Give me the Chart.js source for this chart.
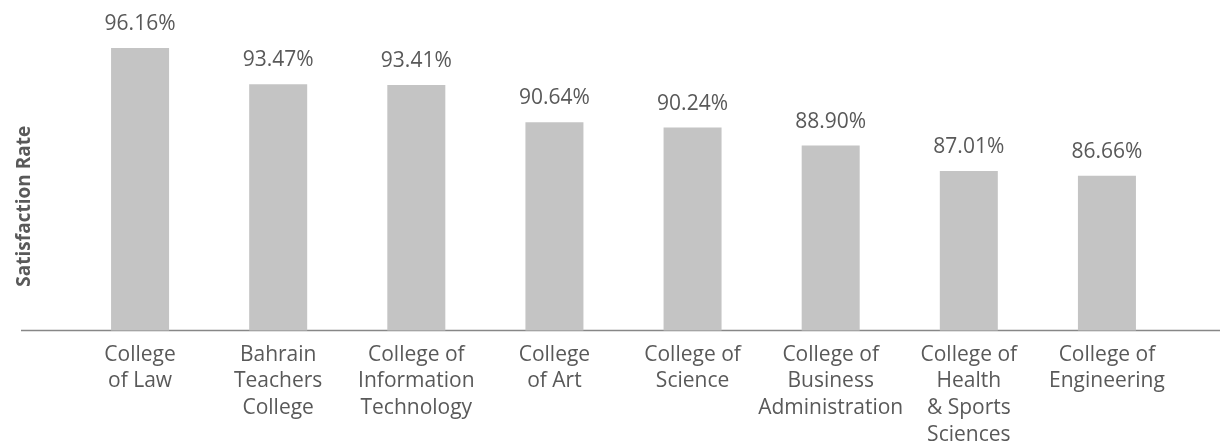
<!DOCTYPE html>
<html>
<head>
<meta charset="utf-8">
<script src="https://cdn.jsdelivr.net/npm/chart.js@4/dist/chart.umd.min.js"></script>
<style>
  html, body { margin: 0; padding: 0; background: #fff; }
  #wrap { width: 1220px; height: 446px; position: relative; }
</style>
</head>
<body>
<div id="wrap"><canvas id="myChart"></canvas></div>
<script>
var collegeLabels = [
    ["College", "of Law"],
    ["Bahrain", "Teachers", "College"],
    ["College of", "Information", "Technology"],
    ["College", "of Art"],
    ["College of", "Science"],
    ["College of", "Business", "Administration"],
    ["College of", "Health", "& Sports", "Sciences"],
    ["College of", "Engineering"]
];
var satisfactionRates = [96.16, 93.47, 93.41, 90.64, 90.24, 88.90, 87.01, 86.66];
var yAxisTitle = "Satisfaction Rate";

var TEXT_COLOR = "#595959";
var BAR_COLOR = "#c4c4c4";

// value labels above each bar + baseline + rotated axis title
var decorPlugin = {
    id: "decor",
    beforeDatasetsDraw: function(chart) {
        var ctx = chart.ctx;
        var y = chart.scales.y.getPixelForValue(chart.scales.y.min);
        ctx.save();
        ctx.strokeStyle = "#878787";
        ctx.lineWidth = 1.5;
        ctx.beginPath();
        ctx.moveTo(21, y);
        ctx.lineTo(chart.width, y);
        ctx.stroke();
        ctx.restore();
    },
    afterDatasetsDraw: function(chart) {
        var ctx = chart.ctx;
        var meta = chart.getDatasetMeta(0);
        ctx.save();
        ctx.fillStyle = TEXT_COLOR;
        ctx.font = "21px 'Open Sans'";
        ctx.textAlign = "center";
        ctx.textBaseline = "alphabetic";
        meta.data.forEach(function(bar, i) {
            ctx.fillText(satisfactionRates[i].toFixed(2) + "%", bar.x, bar.y - 18);
        });

        var area = chart.chartArea;
        ctx.translate(25, (area.top + area.bottom) / 2 + 26);
        ctx.rotate(-Math.PI / 2);
        ctx.font = "bold 19px 'Open Sans'";
        ctx.textBaseline = "middle";
        ctx.fillText(yAxisTitle, 0, 0);
        ctx.restore();
    }
};

var canvas = document.getElementById("myChart");
var ctx = canvas.getContext("2d");

var myChart = new Chart(ctx, {
    type: "bar",
    data: {
        labels: collegeLabels,
        datasets: [{
            label: yAxisTitle,
            data: satisfactionRates,
            backgroundColor: BAR_COLOR,
            borderWidth: 0,
            barPercentage: 0.42,
            categoryPercentage: 1
        }]
    },
    options: {
        responsive: true,
        maintainAspectRatio: false,
        animation: false,
        layout: {
            padding: { left: 71, right: 44, top: 30, bottom: 0 }
        },
        plugins: {
            legend: { display: false },
            tooltip: { enabled: false }
        },
        scales: {
            x: {
                grid: { display: false },
                border: { display: false },
                ticks: {
                    color: TEXT_COLOR,
                    font: { family: "'Open Sans'", size: 21, lineHeight: 1.27 },
                    maxRotation: 0,
                    minRotation: 0,
                    autoSkip: false,
                    padding: 3
                },
                afterFit: function(scale) {
                    scale.height = 115.5;
                }
            },
            y: {
                display: false,
                min: 75.14,
                max: 97.5
            }
        }
    },
    plugins: [decorPlugin]
});
</script>
</body>
</html>
